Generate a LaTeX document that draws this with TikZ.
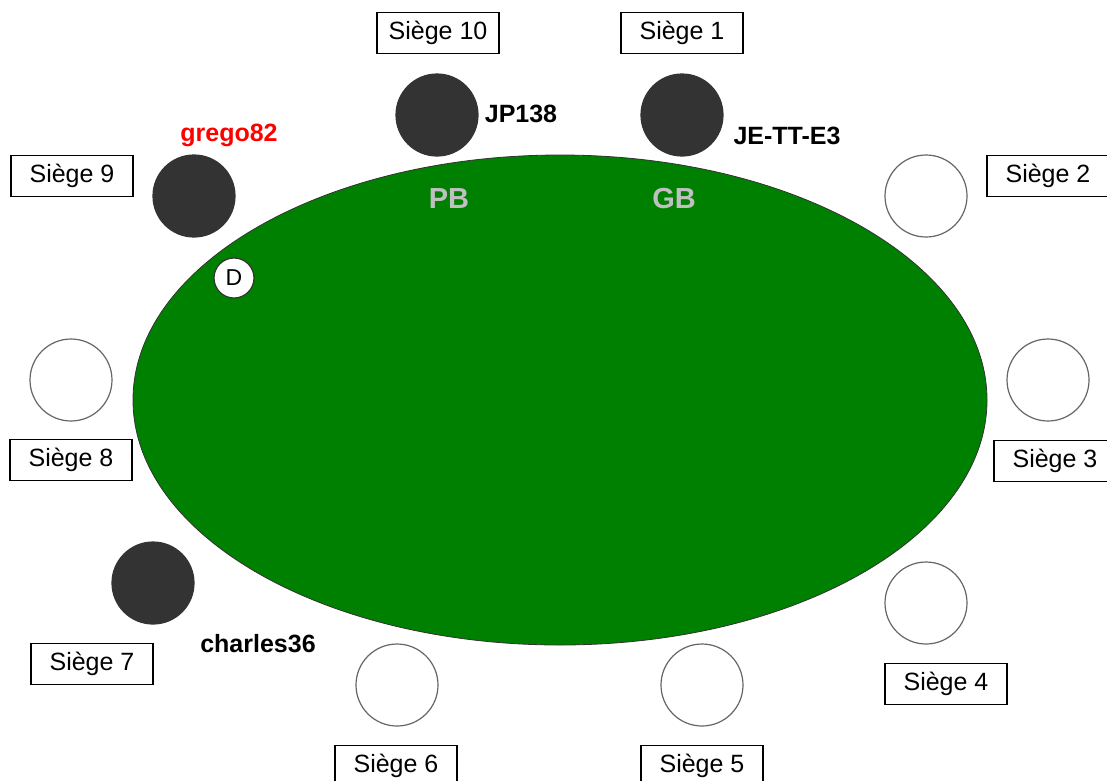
\documentclass[tikz,border=0pt]{standalone}
\usepackage{fontspec}
\setmainfont{Liberation Sans}
\usetikzlibrary{shapes.geometric}
\definecolor{tapis}{RGB}{0,128,0}
\definecolor{jeton}{RGB}{51,51,51}
\definecolor{blinde}{RGB}{192,192,192}

\begin{document}
\begin{tikzpicture}
            [x=1pt, y=-1pt, line width=1.2pt, font=\fontsize{25}{28}\selectfont,
             siege/.style={draw, fill=white, minimum width=122pt, minimum height=41pt, inner sep=0pt},
             place/.style={circle, draw=jeton!75, fill=white, minimum size=82pt, inner sep=0pt},
             joueur/.style={place, draw=jeton, fill=jeton},
             pseudo/.style={font=\fontsize{25}{28}\selectfont\bfseries}]
            \useasboundingbox (0,0) rectangle (1107,780);
            \node [ellipse, draw=black!80, line width=0.8pt, fill=tapis, minimum width=854pt, minimum height=490pt] (table) at (560,400) {};
            % etiquettes des sieges
            \foreach \n/\x/\y in {1/682/33, 2/1048/176, 3/1055/461, 4/946/684, 5/702/766,
                                  6/396/766, 7/92/664, 8/71/460, 9/72/176, 10/438/33}
                \node [siege] (b\n) at (\x,\y) {Siège \n};
            % places libres
            \foreach \n/\x/\y in {2/926/196, 3/1048/380, 4/926/603, 5/702/685, 6/397/685, 8/71/380}
                \node [place] (s\n) at (\x,\y) {};
            % joueurs
            \node [joueur] (s1) at (682,115) {};
            \node [joueur] (s7) at (153,583) {};
            \node [joueur] (s9) at (194,196) {};
            \node [joueur] (s10) at (437,115) {};
            \node [pseudo, text=red] (grego) at (229,135) {grego82};
            \node [pseudo] (jp) at (521,114) {JP138};
            \node [pseudo] (jett) at (787,136) {JE-TT-E3};
            \node [pseudo] (charles) at (258,644) {charles36};
            \node [font=\fontsize{29}{32}\selectfont\bfseries, text=blinde] (pb) at (449,199) {PB};
            \node [font=\fontsize{29}{32}\selectfont\bfseries, text=blinde] (gb) at (674,199) {GB};
            \node [circle, draw=jeton, fill=white, minimum size=40pt, inner sep=0pt, font=\fontsize{23}{24}\selectfont] (dealer) at (234,278) {D};
\end{tikzpicture}
\end{document}
